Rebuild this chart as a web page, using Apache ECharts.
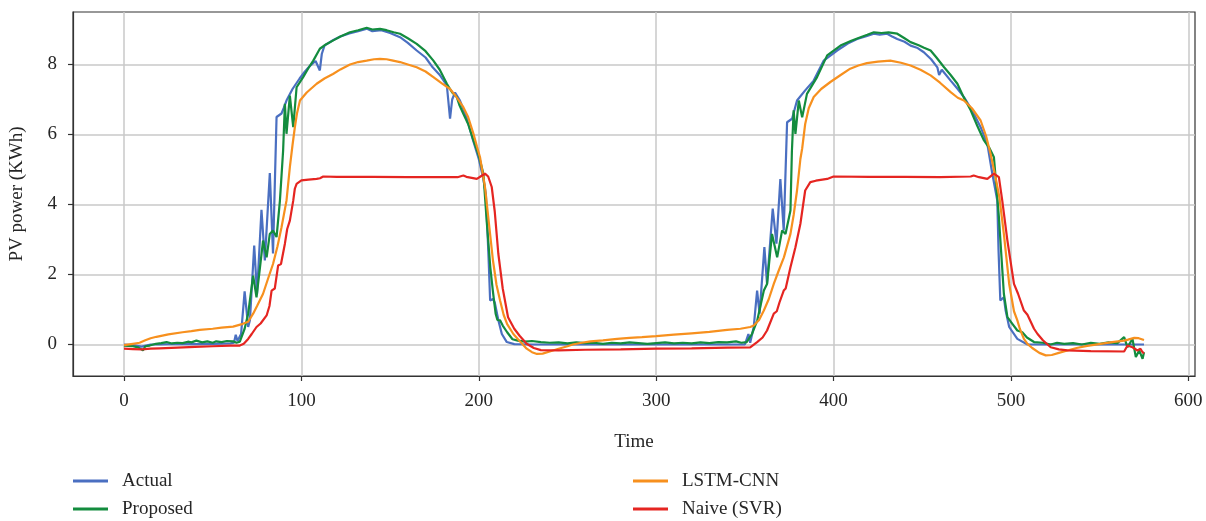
<!DOCTYPE html>
<html>
<head>
<meta charset="utf-8">
<title>PV power</title>
<script src="https://cdn.jsdelivr.net/npm/echarts@6/dist/echarts.min.js"></script>
<style>
  html, body { margin: 0; padding: 0; background: #fff; }
  #chart { width: 1206px; height: 521px; }
</style>
</head>
<body>
<div id="chart"></div>
<script>
  /******************/
  //region    //data

  let xTicks = [0, 100, 200, 300, 400, 500, 600];
  let yTicks = [0, 2, 4, 6, 8];

  // [time, kWh]
  let actual = [
    [0, 0], [5, -0.02], [10, -0.06], [15, 0], [20, 0], [30, 0.02], [40, 0.01], [50, 0.02], [60, 0.03],
    [62, 0.05], [63, 0.28], [64, 0.1], [66, 0.3], [68, 1.52], [70, 0.5], [71, 0.7], [73.4, 2.83], [75, 1.45],
    [77.5, 3.85], [79.4, 2.4], [82.2, 4.9], [84, 2.6], [86, 6.5], [88.8, 6.6], [90, 6.75], [91.6, 6.97],
    [95, 7.3], [99, 7.6], [102, 7.8], [105, 7.97], [108, 8.1], [110.4, 7.83], [111.5, 8.3], [113, 8.54],
    [118, 8.7], [122, 8.8], [127, 8.89], [132, 8.95], [137, 9.02], [140, 8.95], [145, 8.98], [150, 8.9],
    [155.6, 8.78], [160, 8.62], [165, 8.4], [170, 8.2], [174, 7.92], [178, 7.7], [182, 7.4], [183.8, 6.45],
    [185, 7.0], [186.6, 7.2], [189.4, 6.97], [193, 6.5], [196.8, 5.83], [200, 5.3], [202.4, 4.78], [204, 4.3],
    [205.5, 2.5], [206.4, 1.26], [208, 1.3], [209, 1.2], [211, 0.7], [213, 0.3], [215.8, 0.07], [220, 0.01],
    [230, 0], [260, 0], [300, 0], [340, 0], [350, 0], [352, 0.3], [353, 0.05], [355, 0.5], [356.9, 1.54],
    [358.3, 0.88], [361, 2.78], [362.5, 1.73], [365.7, 3.88], [367.8, 2.88], [370, 4.73], [371.9, 3.26],
    [373.8, 6.35], [376.6, 6.45], [379.4, 6.97], [384, 7.26], [388.8, 7.54], [394.4, 8.11], [402, 8.4],
    [408, 8.6], [413.3, 8.73], [418, 8.8], [422.7, 8.88], [426, 8.85], [430.2, 8.88], [433, 8.8],
    [435.9, 8.73], [440, 8.65], [443.4, 8.54], [447, 8.48], [450.9, 8.35], [455, 8.15], [458.5, 7.92],
    [459.5, 7.7], [461, 7.85], [466, 7.54], [470, 7.3], [473.5, 7.07], [478, 6.7], [482.9, 6.21],
    [486.7, 5.73], [489.5, 4.88], [492.3, 4.11], [493, 2.69], [494, 1.26], [496, 1.35], [497, 0.97],
    [499, 0.5], [503.6, 0.16], [509.3, 0], [520, 0], [575, 0]
  ];

  let proposed = [
    [0, -0.03], [5, -0.05], [8, -0.08], [10.7, -0.17], [12, -0.05], [14.5, -0.03], [18, 0.02], [21, 0.04],
    [24, 0.07], [27, 0.03], [30, 0.05], [33, 0.04], [36, 0.08], [38, 0.06], [40.8, 0.11], [44, 0.06],
    [47, 0.09], [50, 0.05], [52, 0.09], [55, 0.07], [58, 0.1], [61.5, 0.09], [63.4, 0.05], [65.3, 0.08],
    [68, 0.45], [70, 0.88], [72.8, 1.97], [74.7, 1.35], [78.4, 2.97], [80.4, 2.49], [82.2, 3.16], [84, 3.26],
    [86, 3.07], [87.9, 4.11], [89.7, 5.54], [90.7, 6.88], [91.6, 6.02], [93.5, 7.11], [95.4, 6.21],
    [97.3, 7.35], [101, 7.64], [104, 7.9], [106.7, 8.11], [110.4, 8.45], [114, 8.58], [118, 8.69],
    [122, 8.8], [127.4, 8.92], [132, 8.98], [136.8, 9.05], [140, 9.0], [144.3, 9.02], [148, 8.98],
    [152, 8.92], [155.6, 8.88], [160, 8.75], [165, 8.59], [170, 8.38], [174.4, 8.11], [178, 7.85],
    [182, 7.45], [185, 7.2], [187.6, 7.07], [189, 6.85], [191.3, 6.59], [194, 6.3], [197, 5.83], [200, 5.4],
    [202.6, 4.88], [204.5, 3.5], [206.5, 2.2], [208, 1.5], [209.5, 0.88], [210.5, 0.7], [212, 0.69],
    [213.5, 0.54], [216, 0.35], [219, 0.15], [222, 0.11], [226, 0.08], [230, 0.1], [235, 0.07], [240, 0.05],
    [245, 0.06], [250, 0.03], [255, 0.06], [260, 0.04], [265, 0.05], [270, 0.02], [275, 0.05], [280, 0.03],
    [285, 0.06], [290, 0.04], [295, 0.02], [300, 0.04], [305, 0.06], [310, 0.03], [315, 0.05], [320, 0.03],
    [325, 0.06], [330, 0.04], [335, 0.07], [340, 0.06], [345, 0.09], [348, 0.05], [351, 0.07], [354, 0.3],
    [357, 0.69], [360.7, 1.54], [362.5, 1.73], [365.3, 3.16], [368.2, 2.49], [371, 3.26], [372.9, 3.16],
    [375.7, 3.83], [376.5, 5.5], [377.5, 6.69], [378.5, 6.02], [380.4, 6.97], [382.3, 6.49], [385, 7.16],
    [390.7, 7.64], [396.4, 8.26], [403.9, 8.54], [410, 8.68], [415.2, 8.78], [419, 8.85], [422.7, 8.92],
    [427, 8.9], [431, 8.92], [435.9, 8.88], [440, 8.75], [443.4, 8.64], [448, 8.55], [451, 8.48],
    [454.7, 8.4], [458, 8.2], [462.3, 7.92], [466, 7.7], [469.8, 7.45], [473, 7.1], [477.3, 6.69],
    [481, 6.25], [484.8, 5.83], [488, 5.6], [490.4, 5.35], [493.2, 3.64], [496, 1.45], [498, 0.78],
    [500.8, 0.59], [503.6, 0.4], [506.4, 0.35], [509, 0.2], [513, 0.07], [518, 0.05], [522.4, 0.0],
    [526, 0.05], [530, 0.02], [535, 0.04], [540, 0.0], [545, 0.05], [550, 0.02], [555, 0.06], [560, 0.04],
    [563.8, 0.21], [565.7, -0.08], [568.5, 0.16], [570.4, -0.36], [572.3, -0.17], [574.2, -0.41], [575, -0.22]
  ];

  let lstmCnn = [
    [0, -0.02], [5, 0.02], [8.8, 0.05], [12, 0.12], [15, 0.18], [18.3, 0.22], [25, 0.29], [33, 0.35],
    [38, 0.38], [42.7, 0.42], [50, 0.45], [55, 0.48], [61.5, 0.51], [67, 0.59], [70, 0.65], [72.8, 0.88],
    [75, 1.1], [78.4, 1.45], [81, 1.85], [84, 2.3], [86.5, 2.8], [88.8, 3.35], [91.6, 4.11], [93.5, 5.07],
    [95, 5.7], [96.3, 6.2], [97.5, 6.6], [99.2, 6.97], [103, 7.2], [108.6, 7.45], [113, 7.6], [117.8, 7.73],
    [122, 7.86], [127.4, 8.0], [132, 8.07], [136.8, 8.11], [141, 8.15], [144.3, 8.16], [148, 8.15],
    [151, 8.12], [155.6, 8.07], [160, 8.0], [165, 7.92], [170, 7.8], [174.4, 7.64], [179, 7.47],
    [183.8, 7.3], [187, 7.1], [191.3, 6.78], [194, 6.5], [197, 6.02], [199, 5.65], [200.7, 5.35],
    [203.5, 4.5], [205, 3.8], [208, 2.4], [210, 1.7], [212, 1.26], [214, 0.85], [216, 0.58], [219.5, 0.3],
    [223, 0.1], [227, -0.12], [230, -0.22], [232.8, -0.27], [236, -0.26], [240, -0.2], [245, -0.12],
    [250, -0.05], [253, 0], [258, 0.05], [263, 0.09], [270, 0.12], [278, 0.16], [285, 0.19], [292, 0.21],
    [300, 0.24], [310, 0.28], [320, 0.32], [330, 0.36], [340, 0.42], [347.5, 0.45], [353, 0.5], [355, 0.54],
    [358, 0.7], [360.7, 0.97], [363.5, 1.3], [366.3, 1.73], [369, 2.1], [372, 2.49], [375.7, 3.16],
    [377.5, 3.7], [379.4, 4.4], [381.3, 5.3], [382.3, 5.6], [384, 6.3], [386, 6.75], [388.8, 7.07],
    [393, 7.3], [398.2, 7.5], [404, 7.7], [409.4, 7.88], [414, 7.97], [418.8, 8.04], [425, 8.08],
    [432, 8.11], [438, 8.05], [443.4, 7.97], [449, 7.85], [454.7, 7.69], [460, 7.48], [466, 7.21],
    [470, 7.05], [473.5, 6.97], [478, 6.75], [482.9, 6.4], [486, 5.95], [488.5, 5.45], [491.3, 4.78],
    [493.5, 4.2], [496, 3.16], [499, 1.73], [501.7, 0.95], [503.6, 0.69], [505, 0.45], [507.3, 0.16],
    [509.3, 0.02], [512, -0.1], [516, -0.24], [519.6, -0.31], [523, -0.3], [527, -0.24], [531.8, -0.17],
    [537, -0.1], [543, -0.04], [550.6, 0.02], [557, 0.07], [563.8, 0.11], [566, 0.14], [569.5, 0.19],
    [572, 0.18], [575, 0.13]
  ];

  let naiveSvr = [
    [0, -0.12], [5, -0.13], [10, -0.14], [15, -0.12], [20, -0.11], [30, -0.09], [40, -0.07], [50, -0.05],
    [60, -0.03], [65.3, -0.03], [67.5, 0.02], [70, 0.16], [72, 0.3], [74.7, 0.5], [77, 0.6], [80.4, 0.83],
    [82, 1.1], [83.2, 1.54], [85, 1.6], [86.9, 2.26], [88.5, 2.3], [90.7, 2.88], [92, 3.3], [93.5, 3.54],
    [95.4, 4.11], [96.3, 4.45], [97.3, 4.59], [100, 4.69], [104, 4.71], [108.6, 4.73], [110.5, 4.75],
    [112.3, 4.8], [120, 4.79], [140, 4.79], [160, 4.78], [180, 4.78], [188, 4.78], [191.3, 4.83],
    [193, 4.79], [196, 4.76], [198.9, 4.73], [201, 4.8], [203.5, 4.88], [205.3, 4.8], [207.3, 4.5],
    [209, 3.8], [211, 2.6], [213.5, 1.6], [216.5, 0.78], [220, 0.45], [223, 0.25], [227, 0.02], [231, -0.1],
    [235, -0.16], [245, -0.17], [260, -0.15], [280, -0.14], [300, -0.12], [320, -0.11], [340, -0.09],
    [353, -0.08], [356.9, 0.07], [360, 0.2], [362.5, 0.4], [366.3, 0.88], [368, 0.95], [369.5, 1.2],
    [371.9, 1.54], [373, 1.6], [375.7, 2.21], [378.5, 2.78], [381.3, 3.45], [384, 4.4], [386.9, 4.64],
    [390, 4.68], [396.4, 4.73], [400, 4.8], [420, 4.79], [440, 4.79], [460, 4.78], [477.3, 4.8], [479, 4.83],
    [482, 4.78], [486.7, 4.73], [490.4, 4.88], [493.2, 4.78], [495.1, 4.11], [498, 2.97], [501.7, 1.73],
    [504, 1.45], [507.3, 0.97], [509.3, 0.85], [513, 0.45], [515, 0.3], [518, 0.12], [522.4, -0.08],
    [527, -0.14], [531.8, -0.17], [545, -0.19], [563.8, -0.2], [565.7, -0.03], [568.5, -0.08],
    [571.3, -0.17], [573, -0.12], [574.2, -0.22], [575, -0.25]
  ];

  //endregion

  /******************/
  //region    //function

  let font = '"Liberation Serif", "DejaVu Serif", serif';
  let ink = '#262626';

  function lineSeries(name, data, color) {
    return {
      name: name,
      type: 'line',
      data: data,
      showSymbol: false,
      symbol: 'none',
      lineStyle: {color: color, width: 2.2},
      itemStyle: {color: color},
      emphasis: {disabled: true},
    };
  }

  function legendBlock(left, names) {
    return {
      left: left,
      top: 471,
      height: 50,
      padding: 0,
      orient: 'vertical',
      data: names,
      icon: 'rect',
      itemWidth: 35,
      itemHeight: 3,
      itemGap: 8,
      selectedMode: false,
      textStyle: {fontFamily: font, fontSize: 19, color: ink, lineHeight: 20, padding: [0, 0, 0, 9]},
    };
  }

  function deployChart() {
    let chart = echarts.init(document.getElementById('chart'));

    let option = {
      animation: false,
      backgroundColor: '#fff',
      grid: {
        left: 72, right: 11, top: 12, bottom: 145,
        show: true, borderColor: '#333', borderWidth: 1.2,
      },
      legend: [
        legendBlock(73, ['Actual', 'Proposed']),
        legendBlock(633, ['LSTM-CNN', 'Naive (SVR)']),
      ],
      xAxis: {
        type: 'value',
        min: -28.75,
        max: 603.75,
        name: 'Time',
        nameLocation: 'middle',
        nameGap: 57,
        nameTextStyle: {fontFamily: font, fontSize: 19, color: ink},
        axisLine: {show: true, onZero: false, lineStyle: {color: '#333', width: 1.2}},
        axisTick: {show: true, length: 5, customValues: xTicks, lineStyle: {color: '#333', width: 1.2}},
        axisLabel: {customValues: xTicks, margin: 16, fontFamily: font, fontSize: 19, color: ink},
        splitLine: {show: true, lineStyle: {color: '#c9c9c9', width: 1.5}},
      },
      yAxis: {
        type: 'value',
        min: -0.9,
        max: 9.5,
        name: 'PV power (KWh)',
        nameLocation: 'middle',
        nameGap: 46,
        nameTextStyle: {fontFamily: font, fontSize: 19, color: ink},
        axisLine: {show: true, onZero: false, lineStyle: {color: '#333', width: 1.2}},
        axisTick: {show: true, length: 5, customValues: yTicks, lineStyle: {color: '#333', width: 1.2}},
        axisLabel: {customValues: yTicks, margin: 16, fontFamily: font, fontSize: 19, color: ink},
        splitLine: {show: true, lineStyle: {color: '#c9c9c9', width: 1.5}},
      },
      series: [
        lineSeries('Actual', actual, '#4a6fc1'),
        lineSeries('Proposed', proposed, '#138c3e'),
        lineSeries('LSTM-CNN', lstmCnn, '#f7901e'),
        lineSeries('Naive (SVR)', naiveSvr, '#e52521'),
      ]
    };

    chart.setOption(option);
  }

  deployChart();

  //endregion
</script>
</body>
</html>
